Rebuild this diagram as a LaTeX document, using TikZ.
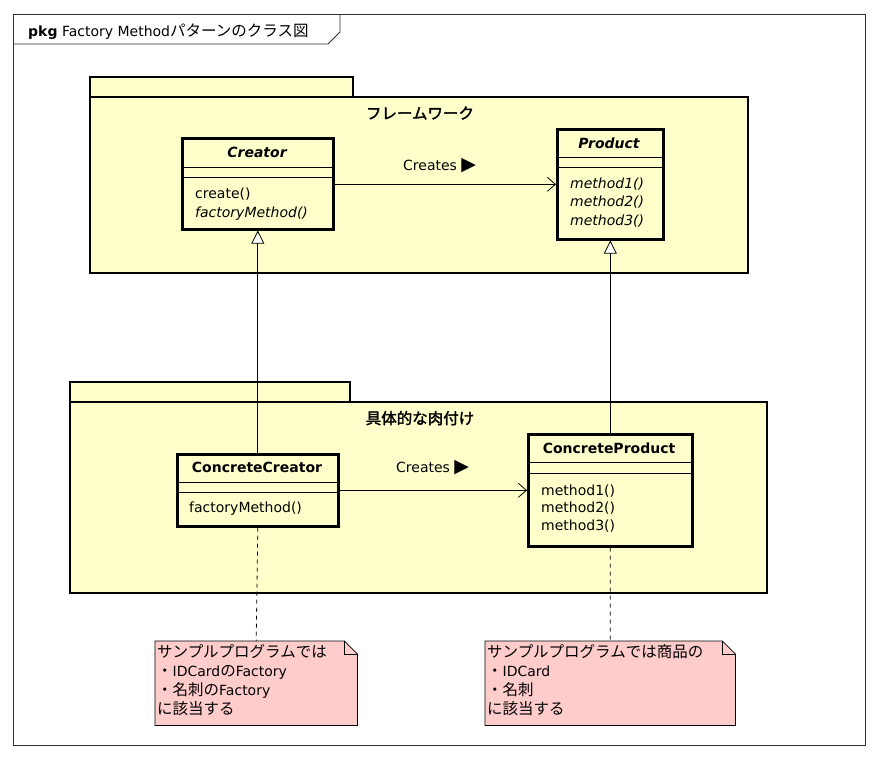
\documentclass[tikz,border=0pt]{standalone}
\usepackage{fontspec}
\setmainfont{DejaVu Sans}
\newfontfamily\jpfont{Noto Sans CJK JP}[AutoFakeBold=2]
\newcommand\ja[1]{{\jpfont\fontsize{15.5}{19}\selectfont #1}}
\usetikzlibrary{arrows.meta}
\definecolor{pkgfill}{RGB}{255,255,204}
\definecolor{notefill}{RGB}{255,204,204}
\definecolor{framecol}{RGB}{50,50,50}
\tikzset{
  txt/.style={font=\fontsize{14}{19}\selectfont, inner sep=0pt, anchor=base west},
  ctxt/.style={font=\fontsize{14}{19}\selectfont\bfseries, inner sep=0pt, anchor=base},
  pkgshape/.style={draw, line width=2.6pt, fill=pkgfill},
  classbox/.style={draw, line width=2.6pt, fill=pkgfill, anchor=north west, inner sep=0pt},
  sepline/.style={line width=0.8pt},
  assoc/.style={line width=0.8pt, -{Straight Barb[length=8pt,width=14pt,line width=0.8pt]}},
  inherit/.style={line width=0.8pt, -{Triangle[length=13pt,width=13pt,fill=white,line width=0.8pt]}},
  notelink/.style={line width=0.8pt, dash pattern=on 4pt off 4pt},
  noteframe/.style={anchor=north west, inner sep=0pt},
}
\newcommand\tri{{\fontsize{19}{19}\selectfont ▶}}
\begin{document}
\begin{tikzpicture}[x=1pt,y=-1pt]
\useasboundingbox[fill=white] (0,0) rectangle (880,758);

% outer frame and its title tab
\draw[framecol, line width=0.8pt] (13,14) rectangle (865,745);
\draw[framecol, line width=0.8pt] (13,44) -- (328,44) -- (340,32) -- (340,14);
\node[txt] (title) at (28,36) {\textbf{pkg} Factory Method\ja{パターンのクラス図}};

% upper package
\draw[pkgshape] (90,77) rectangle (353,97);
\draw[pkgshape] (90,97) rectangle (748,273);
\node[ctxt] (fwlabel) at (420,119) {\ja{フレームワーク}};

% lower package
\draw[pkgshape] (70,382) rectangle (350,402);
\draw[pkgshape] (70,402) rectangle (767,593);
\node[ctxt] (concretelabel) at (420,424) {\ja{具体的な肉付け}};

% Creator
\node[classbox, minimum width=151pt, minimum height=91pt] (creator) at (181,137) {};
\draw[sepline] (creator.west |- 0,167) -- (creator.east |- 0,167);
\draw[sepline] (creator.west |- 0,177) -- (creator.east |- 0,177);
\node[ctxt, font=\fontsize{14}{19}\selectfont\bfseries\itshape] (creatorname) at (257,157) {Creator};
\node[txt] (creatorop1) at (195,198) {create()};
\node[txt, font=\fontsize{14}{19}\selectfont\itshape] (creatorop2) at (195,217) {factoryMethod()};

% Product
\node[classbox, minimum width=106pt, minimum height=110pt] (product) at (556,128) {};
\draw[sepline] (product.west |- 0,157) -- (product.east |- 0,157);
\draw[sepline] (product.west |- 0,167) -- (product.east |- 0,167);
\node[ctxt, font=\fontsize{14}{19}\selectfont\bfseries\itshape] (productname) at (609,148) {Product};
\node[txt, font=\fontsize{14}{19}\selectfont\itshape] (productop1) at (570,188) {method1()};
\node[txt, font=\fontsize{14}{19}\selectfont\itshape] (productop2) at (570,206) {method2()};
\node[txt, font=\fontsize{14}{19}\selectfont\itshape] (productop3) at (570,225) {method3()};

% ConcreteCreator
\node[classbox, minimum width=161pt, minimum height=72pt] (ccreator) at (176,453) {};
\draw[sepline] (ccreator.west |- 0,482) -- (ccreator.east |- 0,482);
\draw[sepline] (ccreator.west |- 0,492) -- (ccreator.east |- 0,492);
\node[ctxt] (ccreatorname) at (257,472) {ConcreteCreator};
\node[txt] (ccreatorop1) at (189,512) {factoryMethod()};

% ConcreteProduct
\node[classbox, minimum width=164pt, minimum height=112pt] (cproduct) at (527,433) {};
\draw[sepline] (cproduct.west |- 0,462) -- (cproduct.east |- 0,462);
\draw[sepline] (cproduct.west |- 0,473) -- (cproduct.east |- 0,473);
\node[ctxt] (cproductname) at (609,453) {ConcreteProduct};
\node[txt] (cproductop1) at (541,495) {method1()};
\node[txt] (cproductop2) at (541,512) {method2()};
\node[txt] (cproductop3) at (541,530) {method3()};

% associations
\draw[assoc] (creator.east |- product.west) -- (product.west);
\node[txt] (creates1) at (403,170) {Creates \tri};
\draw[assoc] (ccreator.east) -- (ccreator.east -| cproduct.west);
\node[txt] (creates2) at (396,472) {Creates \tri};

% generalizations
\draw[inherit] (ccreator.north) -- (creator.south);
\draw[inherit] (cproduct.north) -- (product.south);

% notes
\node[noteframe, minimum width=202pt, minimum height=84pt] (note1) at (155,641) {};
\draw[line width=0.8pt, fill=notefill]
  (note1.north west) -- ([xshift=-13pt]note1.north east) -- ([yshift=-13pt]note1.north east)
  -- (note1.south east) -- (note1.south west) -- cycle;
\draw[line width=0.8pt] ([xshift=-13pt]note1.north east) |- ([yshift=-13pt]note1.north east);
\node[txt] (note1l1) at (157,657) {\ja{サンプルプログラムでは}};
\node[txt] (note1l2) at (157,676) {\ja{・}IDCard\ja{の}Factory};
\node[txt] (note1l3) at (157,695) {\ja{・名刺の}Factory};
\node[txt] (note1l4) at (157,714) {\ja{に該当する}};

\node[noteframe, minimum width=250pt, minimum height=84pt] (note2) at (485,641) {};
\draw[line width=0.8pt, fill=notefill]
  (note2.north west) -- ([xshift=-13pt]note2.north east) -- ([yshift=-13pt]note2.north east)
  -- (note2.south east) -- (note2.south west) -- cycle;
\draw[line width=0.8pt] ([xshift=-13pt]note2.north east) |- ([yshift=-13pt]note2.north east);
\node[txt] (note2l1) at (487,657) {\ja{サンプルプログラムでは商品の}};
\node[txt] (note2l2) at (487,676) {\ja{・}IDCard};
\node[txt] (note2l3) at (487,695) {\ja{・名刺}};
\node[txt] (note2l4) at (487,714) {\ja{に該当する}};

% note anchors
\draw[notelink] (ccreator.south) -- (note1.north);
\draw[notelink] (cproduct.south) -- (note2.north);
\end{tikzpicture}
\end{document}
